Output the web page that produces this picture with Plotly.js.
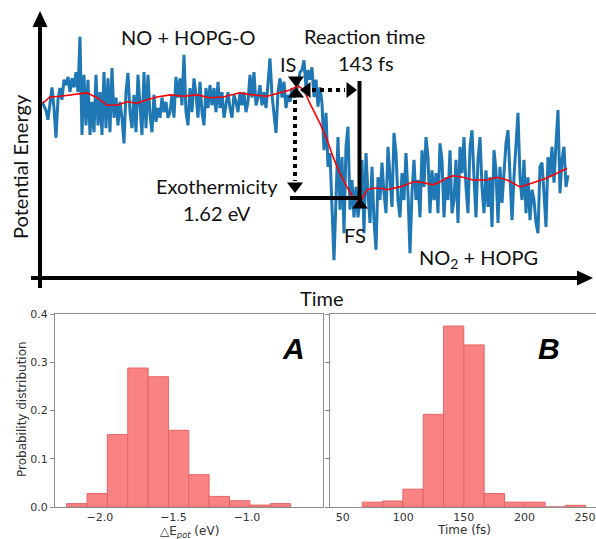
<!DOCTYPE html>
<html><head><meta charset="utf-8">
<script src="https://cdn.plot.ly/plotly-3.0.1.min.js"></script>
<style>html,body{margin:0;padding:0;background:#fff;}#chart{width:596px;height:539px;}</style>
</head><body><div id="chart"></div>
<script>
// ---------------- Top panel: sample trajectory (energy relative to IS, eV) ----------------
const frameStep = 4.54; // fs between stored frames
const potentialEnergy = [
 -0.20,-0.25,-0.32,-0.46,-0.25,0.01,-0.29,-0.72,-0.17,0.00,
 -0.17,0.12,0.04,0.16,-0.06,0.14,0.01,0.23,-0.06,0.74,
 -0.68,0.19,-0.54,0.12,-0.68,-0.20,-0.64,0.19,-0.54,-0.06,
 -0.68,0.23,-0.58,0.14,-0.64,0.29,-0.43,-0.14,-0.54,-0.20,
 -0.43,-0.80,-0.06,0.22,-0.35,-0.58,-0.10,-0.64,0.19,-0.29,
 -0.68,0.23,-0.58,0.19,-0.39,-0.64,-0.10,-0.49,-0.29,-0.43,
 -0.14,-0.35,-0.20,-0.43,-0.35,-0.10,-0.43,0.16,-0.14,0.14,
 -0.25,0.48,-0.35,-0.54,0.00,-0.35,0.14,-0.10,-0.43,0.09,
 -0.35,-0.54,0.00,-0.29,0.04,-0.25,0.00,-0.35,0.09,-0.29,
 -0.06,-0.43,-0.25,-0.06,-0.29,-0.43,-0.10,-0.20,-0.35,-0.06,
 -0.25,-0.06,-0.35,-0.20,0.19,-0.14,0.23,-0.25,-0.14,0.04,
 -0.25,-0.06,-0.29,0.14,0.43,-0.10,-0.35,-0.65,-0.06,0.14,
 -0.14,0.09,-0.29,-0.10,-0.20,0.00,-0.14,-0.06,0.04,0.23,
 0.26,0.40,0.01,0.26,0.12,0.30,-0.13,0.12,-0.27,0.01,
 -0.22,-0.90,-0.36,-1.14,-0.94,-1.72,-2.49,-1.62,-0.71,-1.76,
 -1.00,-2.10,-0.85,-0.56,-1.76,-1.33,-1.87,-1.43,-1.87,-1.62,
 -1.04,-2.10,-0.94,-1.52,-1.95,-1.14,-1.91,-2.34,-1.29,-1.62,
 -1.08,-1.52,-1.81,-0.85,-1.37,-1.72,-0.65,-0.94,-1.62,-1.87,
 -1.23,-1.62,-0.94,-1.52,-2.39,-1.52,-1.04,-1.62,-1.33,-1.87,
 -0.90,-1.43,-0.71,-1.00,-1.81,-1.19,-1.62,-1.23,-1.81,-0.80,
 -1.04,-1.87,-1.29,-1.62,-0.90,-1.81,-1.62,-1.04,-1.95,-0.85,
 -1.23,-0.71,-1.43,-1.81,-0.85,-0.61,-1.29,-1.87,-1.04,-0.71,
 -1.43,-1.81,-1.19,-1.72,-1.29,-2.01,-0.90,-1.19,-1.95,-1.14,
 -1.66,-1.19,-0.80,-0.61,-1.37,-1.91,-1.29,-0.80,-0.36,-1.29,
 -1.62,-1.04,-1.81,-1.29,-1.91,-1.47,-1.62,-1.95,-2.10,-1.14,
 -1.08,-1.52,-2.01,-1.00,-1.29,-0.85,-1.37,-0.80,-0.32,-1.52,
 -1.04,-0.85,-1.43,-1.26
];
const smoothTime = [2,18,41,70,102,125,148,170,193,216,238,261,291,320,352,381,411,449,479,511,540,563,581,
  595,608,631,647,661,676,692,706,722,738,751,767,783,797,813,842,858,888,903,919,933,956,978,1010,1033,1056,1085,1115,1146,1176,1192];
const smoothEnergy = [-0.22,-0.13,-0.12,-0.10,-0.07,-0.14,-0.25,-0.25,-0.20,-0.22,-0.17,-0.13,-0.10,-0.12,-0.10,-0.14,-0.13,-0.07,-0.10,-0.12,-0.07,-0.03,0.03,
  -0.03,-0.22,-0.51,-0.75,-1.00,-1.23,-1.43,-1.58,-1.65,-1.47,-1.45,-1.45,-1.47,-1.45,-1.43,-1.36,-1.36,-1.40,-1.36,-1.30,-1.27,-1.29,-1.33,-1.33,-1.29,-1.33,-1.43,-1.37,-1.30,-1.21,-1.16];

// ---------------- Bottom panels: distributions ----------------
const dEBinStart = [-2.227,-2.088,-1.950,-1.811,-1.673,-1.534,-1.396,-1.257,-1.119,-0.980,-0.842];
const dEBinWidth = 0.1385;
const dEProb = [0.007,0.028,0.150,0.288,0.270,0.159,0.067,0.022,0.013,0.004,0.007];
const rtBinStart = [66.2,83.0,99.7,116.5,133.2,150.0,166.8,183.5,200.3,217.0,233.8];
const rtBinWidth = 16.76;
const rtProb = [0.010,0.0125,0.037,0.192,0.375,0.336,0.028,0.010,0.010,0.0,0.0035];
const dETickVals = [-2.0,-1.5,-1.0];
const dETickText = ['\u22122.0','\u22121.5','\u22121.0'];
const rtTickVals = [50,100,150,200,250];
const probTickVals = [0,0.1,0.2,0.3,0.4];

// ---------------- layout helpers (decorations only) ----------------
const W = 596, H = 539;
const tRange = [-95.3, 1257.6];
const eRange = [-3.0655, 1.2725];
function T(px){ return tRange[0] + (tRange[1]-tRange[0]) * px / W; }
function E(py){ return eRange[1] - (eRange[1]-eRange[0]) * py / 300; }
function PX(px){ return px / W; }
function PY(py){ return 1 - py / H; }

const txtFont = {family:'Lato, "Open Sans", sans-serif', size:20, color:'#111'};
const axisGray = '#8c8c8c';
const tickFont = {family:'"DejaVu Sans", sans-serif', size:11, color:'#333'};
const titleFont = {family:'"DejaVu Sans", sans-serif', size:12, color:'#333'};

const traces = [
  {type:'scatter', mode:'lines', x0:0, dx:frameStep, y:potentialEnergy,
   line:{color:'#1f77b4', width:3}, xaxis:'x', yaxis:'y', hoverinfo:'skip'},
  {type:'scatter', mode:'lines', x:smoothTime, y:smoothEnergy,
   line:{color:'#ff0000', width:1.6}, xaxis:'x', yaxis:'y', hoverinfo:'skip'},
  {type:'scatter', mode:'markers', xaxis:'x', yaxis:'y', hoverinfo:'skip', cliponaxis:false,
   x:[T(296),T(296),T(295),T(360),T(307),T(350)],
   y:[E(80),E(94),E(186),E(205),E(90),E(90)],
   marker:{symbol:['triangle-down','triangle-up','triangle-down','triangle-up','triangle-left','triangle-right'],
           size:14, color:'#000', line:{width:0}}},
  {type:'bar', x:dEBinStart, y:dEProb, width:dEBinWidth, offset:0, xaxis:'x2', yaxis:'y2',
   marker:{color:'#f98383', line:{color:'#e46565', width:1}}, hoverinfo:'skip'},
  {type:'bar', x:rtBinStart, y:rtProb, width:rtBinWidth, offset:0, xaxis:'x3', yaxis:'y3',
   marker:{color:'#f98383', line:{color:'#e46565', width:1}}, hoverinfo:'skip'}
];

const shapes = [
  {type:'line', xref:'paper', yref:'paper', x0:PX(40), x1:PX(40), y0:PY(288), y1:PY(24), line:{color:'#000', width:4}},
  {type:'line', xref:'paper', yref:'paper', x0:PX(31), x1:PX(580), y0:PY(278), y1:PY(278), line:{color:'#000', width:4}},
  {type:'path', xref:'paper', yref:'paper', fillcolor:'#000', line:{width:0},
   path:`M${PX(40)},${PY(11)} L${PX(32.5)},${PY(27)} L${PX(47.5)},${PY(27)} Z`},
  {type:'path', xref:'paper', yref:'paper', fillcolor:'#000', line:{width:0},
   path:`M${PX(593)},${PY(278)} L${PX(577)},${PY(270.5)} L${PX(577)},${PY(285.5)} Z`},
  {type:'line', xref:'x', yref:'y', x0:T(312), x1:T(345), y0:E(90), y1:E(90), line:{color:'#000', width:4, dash:'4px,4px'}},
  {type:'line', xref:'x', yref:'y', x0:T(295), x1:T(295), y0:E(100), y1:E(181), line:{color:'#000', width:4, dash:'4px,4px'}},
  {type:'line', xref:'x', yref:'y', x0:T(359.5), x1:T(359.5), y0:E(81), y1:E(200), line:{color:'#000', width:4}},
  {type:'line', xref:'x', yref:'y', x0:T(290), x1:T(361.5), y0:E(198), y1:E(198), line:{color:'#000', width:4}}
];

function note(px, py, text, font, extra){
  return Object.assign({xref:'paper', yref:'paper', x:PX(px), y:PY(py), text:text, showarrow:false,
    xanchor:'center', yanchor:'middle', font:font}, extra || {});
}
const letterFont = {family:'"Liberation Sans", Arial, sans-serif', size:30, color:'#000'};
const annotations = [
  note(188, 37, 'NO + HOPG-O', txtFont),
  note(364, 36, 'Reaction time', txtFont),
  note(366, 63, '143 fs', txtFont),
  note(288, 64, 'IS', txtFont),
  note(217, 186, 'Exothermicity', txtFont),
  note(217, 213, '1.62 eV', txtFont),
  note(355, 235, 'FS', txtFont),
  note(478, 258, 'NO<sub>2</sub> + HOPG', txtFont),
  note(20, 167, 'Potential Energy', txtFont, {textangle:-90}),
  note(322, 298, 'Time', txtFont),
  note(293, 348, '<b><i>A</i></b>', letterFont),
  note(549, 348, '<b><i>B</i></b>', letterFont),
  note(189, 531.5, '\u25B3E<sub><i>pot</i></sub> (eV)', titleFont),
  note(464, 530, 'Time (fs)', titleFont),
  note(22, 409, 'Probability distribution', titleFont, {textangle:-90})
];

const botY = [1-507/H, 1-314/H];
const commonX = {showline:true, linecolor:axisGray, linewidth:1, mirror:true, ticks:'',
  tickfont:tickFont, showgrid:false, zeroline:false, fixedrange:true};
const commonY = {showline:true, linecolor:axisGray, linewidth:1, ticks:'outside', ticklen:4,
  tickcolor:axisGray, tickfont:tickFont, showgrid:false, zeroline:false, range:[0,0.4],
  tickvals:probTickVals, tickformat:'.1f', domain:botY, fixedrange:true};

const layout = {
  width:W, height:H, margin:{l:0, r:0, t:0, b:0}, paper_bgcolor:'#fff', plot_bgcolor:'rgba(0,0,0,0)',
  showlegend:false, barmode:'overlay',
  font:{family:'"DejaVu Sans", sans-serif', color:'#333'},
  xaxis:{domain:[0,1], range:tRange, visible:false, fixedrange:true},
  yaxis:{domain:[1-300/H,1], range:eRange, visible:false, fixedrange:true},
  xaxis2:Object.assign({}, commonX, {domain:[55/W, 322.7/W], anchor:'y2', range:[-2.306,-0.485],
    tickvals:dETickVals, ticktext:dETickText}),
  yaxis2:Object.assign({}, commonY, {anchor:'x2', mirror:true}),
  xaxis3:Object.assign({}, commonX, {domain:[330/W, 1], anchor:'y3', range:[39.5,259.1],
    tickvals:rtTickVals}),
  yaxis3:Object.assign({}, commonY, {anchor:'x3', mirror:false, showticklabels:false}),
  shapes:shapes, annotations:annotations
};

Plotly.newPlot('chart', traces, layout, {staticPlot:true, displayModeBar:false});
</script></body></html>
